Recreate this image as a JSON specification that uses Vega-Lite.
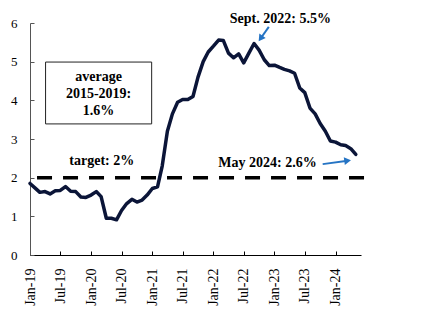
{
  "$schema": "https://vega.github.io/schema/vega-lite/v6.json",
  "width": 331,
  "height": 232,
  "autosize": "none",
  "padding": {"left": 30, "top": 23, "right": 61, "bottom": 67},
  "background": "white",
  "view": {"stroke": null},
  "config": {
    "font": "Liberation Serif",
    "axis": {"labelFont": "Liberation Serif", "labelFontSize": 13, "labelColor": "black", "grid": false, "title": null}
  },
  "datasets": {
    "series": [
      {"date": "2019-01-01", "v": 1.85},
      {"date": "2019-02-01", "v": 1.73},
      {"date": "2019-03-01", "v": 1.62},
      {"date": "2019-04-01", "v": 1.64},
      {"date": "2019-05-01", "v": 1.58},
      {"date": "2019-06-01", "v": 1.66},
      {"date": "2019-07-01", "v": 1.67},
      {"date": "2019-08-01", "v": 1.77},
      {"date": "2019-09-01", "v": 1.65},
      {"date": "2019-10-01", "v": 1.64},
      {"date": "2019-11-01", "v": 1.5},
      {"date": "2019-12-01", "v": 1.49},
      {"date": "2020-01-01", "v": 1.55},
      {"date": "2020-02-01", "v": 1.64},
      {"date": "2020-03-01", "v": 1.51},
      {"date": "2020-04-01", "v": 0.95},
      {"date": "2020-05-01", "v": 0.95},
      {"date": "2020-06-01", "v": 0.91},
      {"date": "2020-07-01", "v": 1.15},
      {"date": "2020-08-01", "v": 1.33},
      {"date": "2020-09-01", "v": 1.44},
      {"date": "2020-10-01", "v": 1.37},
      {"date": "2020-11-01", "v": 1.42},
      {"date": "2020-12-01", "v": 1.55},
      {"date": "2021-01-01", "v": 1.72},
      {"date": "2021-02-01", "v": 1.76},
      {"date": "2021-03-01", "v": 2.3},
      {"date": "2021-04-01", "v": 3.2},
      {"date": "2021-05-01", "v": 3.65},
      {"date": "2021-06-01", "v": 3.95},
      {"date": "2021-07-01", "v": 4.02},
      {"date": "2021-08-01", "v": 4.02},
      {"date": "2021-09-01", "v": 4.1},
      {"date": "2021-10-01", "v": 4.6},
      {"date": "2021-11-01", "v": 5.0},
      {"date": "2021-12-01", "v": 5.25},
      {"date": "2022-01-01", "v": 5.4},
      {"date": "2022-02-01", "v": 5.56},
      {"date": "2022-03-01", "v": 5.55},
      {"date": "2022-04-01", "v": 5.22},
      {"date": "2022-05-01", "v": 5.1},
      {"date": "2022-06-01", "v": 5.2},
      {"date": "2022-07-01", "v": 4.97},
      {"date": "2022-08-01", "v": 5.22},
      {"date": "2022-09-01", "v": 5.47},
      {"date": "2022-10-01", "v": 5.3},
      {"date": "2022-11-01", "v": 5.05},
      {"date": "2022-12-01", "v": 4.9},
      {"date": "2023-01-01", "v": 4.91},
      {"date": "2023-02-01", "v": 4.85},
      {"date": "2023-03-01", "v": 4.8},
      {"date": "2023-04-01", "v": 4.76},
      {"date": "2023-05-01", "v": 4.7},
      {"date": "2023-06-01", "v": 4.32},
      {"date": "2023-07-01", "v": 4.2},
      {"date": "2023-08-01", "v": 3.8},
      {"date": "2023-09-01", "v": 3.65},
      {"date": "2023-10-01", "v": 3.4},
      {"date": "2023-11-01", "v": 3.2},
      {"date": "2023-12-01", "v": 2.95},
      {"date": "2024-01-01", "v": 2.92},
      {"date": "2024-02-01", "v": 2.85},
      {"date": "2024-03-01", "v": 2.83},
      {"date": "2024-04-01", "v": 2.75},
      {"date": "2024-05-01", "v": 2.6}
    ],
    "target": [{"date": "2019-02-12", "date2": "2024-07-01", "v": 2}],
    "box": [{"date": "2019-04-04", "date2": "2020-12-28", "v": 4.99, "v2": 3.39}],
    "boxlabel": [
      {"date": "2020-02-15", "v": 4.78, "label": "average\n2015-2019:\n1.6%"}
    ],
    "labels": [
      {"date": "2020-03-05", "v": 2.43, "label": "target: 2%"},
      {"date": "2023-02-05", "v": 6.1, "label": "Sept. 2022: 5.5%"},
      {"date": "2022-11-20", "v": 2.39, "label": "May 2024: 2.6%"}
    ],
    "arrows": [
      {"date": "2022-11-28", "date2": "2022-10-10", "v": 5.9, "v2": 5.6, "angle": 215},
      {"date": "2023-10-16", "date2": "2024-03-13", "v": 2.35, "v2": 2.44, "angle": 82}
    ]
  },
  "encoding": {
    "x": {
      "field": "date", "type": "temporal",
      "scale": {"type": "utc", "domain": [{"year": 2019, "month": 1, "date": 1, "utc": true}, {"year": 2024, "month": 6, "date": 1, "utc": true}]},
      "axis": {
        "labelExpr": "utcFormat(datum.value, '%b-%y')", "labelAngle": -90, "labelPadding": 17, "labelFontSize": 14,
        "tickSize": -4, "tickColor": "black", "domainColor": "black",
        "values": [
          {"year": 2019, "month": 1, "date": 1, "utc": true},
          {"year": 2019, "month": 7, "date": 1, "utc": true},
          {"year": 2020, "month": 1, "date": 1, "utc": true},
          {"year": 2020, "month": 7, "date": 1, "utc": true},
          {"year": 2021, "month": 1, "date": 1, "utc": true},
          {"year": 2021, "month": 7, "date": 1, "utc": true},
          {"year": 2022, "month": 1, "date": 1, "utc": true},
          {"year": 2022, "month": 7, "date": 1, "utc": true},
          {"year": 2023, "month": 1, "date": 1, "utc": true},
          {"year": 2023, "month": 7, "date": 1, "utc": true},
          {"year": 2024, "month": 1, "date": 1, "utc": true}
        ]
      }
    },
    "y": {
      "field": "v", "type": "quantitative",
      "scale": {"domain": [0, 6], "nice": false},
      "axis": {"values": [0, 1, 2, 3, 4, 5, 6], "tickSize": -4, "labelPadding": 17, "tickColor": "#555555", "domainColor": "#555555"}
    }
  },
  "layer": [
    {
      "data": {"name": "series"},
      "mark": {"type": "line", "color": "#0b1538", "strokeWidth": 3.5, "strokeJoin": "round", "strokeCap": "round"}
    },
    {
      "data": {"name": "box"},
      "mark": {"type": "rect", "fill": null, "stroke": "#222222", "strokeWidth": 1},
      "encoding": {
        "x2": {"field": "date2"},
        "y2": {"field": "v2"}
      }
    },
    {
      "data": {"name": "target"},
      "mark": {"type": "rule", "color": "black", "strokeWidth": 3.5, "strokeDash": [15, 11]},
      "encoding": {
        "x2": {"field": "date2"}
      }
    },
    {
      "data": {"name": "boxlabel"},
      "mark": {"type": "text", "font": "Liberation Serif", "fontWeight": "bold", "fontSize": 14, "color": "black", "lineBreak": "\n", "lineHeight": 17, "align": "center", "baseline": "top"},
      "encoding": {
        "text": {"field": "label"}
      }
    },
    {
      "data": {"name": "labels"},
      "mark": {"type": "text", "font": "Liberation Serif", "fontWeight": "bold", "fontSize": 14, "color": "black", "align": "center", "baseline": "middle"},
      "encoding": {
        "text": {"field": "label"}
      }
    },
    {
      "data": {"name": "arrows"},
      "mark": {"type": "rule", "color": "#2574c4", "strokeWidth": 2},
      "encoding": {
        "x2": {"field": "date2"},
        "y2": {"field": "v2"}
      }
    },
    {
      "data": {"name": "arrows"},
      "mark": {"type": "point", "shape": "triangle-up", "filled": true, "color": "#2574c4", "size": 60, "opacity": 1},
      "encoding": {
        "x": {"field": "date2", "type": "temporal"},
        "y": {"field": "v2", "type": "quantitative"},
        "angle": {"field": "angle", "type": "quantitative", "scale": null}
      }
    }
  ]
}
